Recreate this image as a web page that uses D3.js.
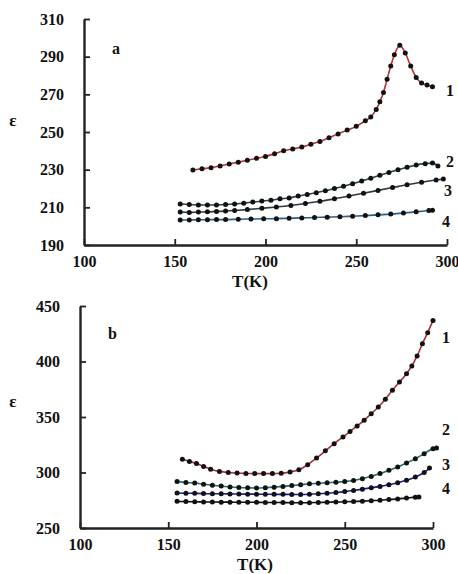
<!DOCTYPE html>
<html>
<head>
<meta charset="utf-8">
<script src="https://cdn.jsdelivr.net/npm/d3@7"></script>
<style>
  body { margin: 0; background: #fff; }
  text { font-family: "Liberation Serif", "DejaVu Serif", serif; font-weight: bold; fill: #111; }
</style>
</head>
<body>
<div class="canvas"></div>
<script>
// panel a data: [T (K), epsilon]
const aCurve1 = [[160,229.8],[165,230.5],[170,231],[175,232],[180,233],[185,234],[190,235],[195,236],[200,237],[205,238.5],[210,240],[215,241],[220,242],[225,243.5],[230,245],[235,247],[240,249],[245,251],[250,253],[255,256],[258,258],[261,262],[263,266],[265,271],[267,278],[269,285],[271,291],[274,296],[277,292],[280,285],[283,279],[286,276],[289,275],[292,274]];
const aCurve2 = [[153,211.8],[158,211.5],[163,211.3],[168,211.2],[173,211.3],[178,211.5],[183,211.8],[188,212.2],[193,212.8],[198,213.3],[203,213.8],[208,214.5],[213,215],[218,216],[223,216.8],[228,217.8],[233,218.8],[238,220],[243,221.2],[248,222.5],[253,224],[258,225.5],[263,227],[268,228.5],[273,230],[278,231.3],[283,232.5],[288,233.2],[292,233.5],[295,232]];
const aCurve3 = [[153,207.5],[158,207.3],[163,207.5],[168,207.6],[173,207.8],[178,208],[183,208.3],[190,208.8],[198,209.5],[206,210.2],[214,211],[222,212],[230,213.2],[238,214.5],[246,216],[254,217.5],[262,219],[270,220.5],[278,222],[286,223.3],[294,224.5],[298,225]];
const aCurve4 = [[153,203.3],[158,203.3],[163,203.4],[168,203.4],[173,203.5],[178,203.5],[185,203.7],[192,203.8],[199,203.9],[206,204],[213,204.2],[220,204.4],[227,204.6],[234,204.8],[241,205],[248,205.3],[255,205.6],[262,206],[269,206.4],[276,207],[283,207.6],[290,208.3],[292,208.5]];

// panel b data
const bCurve1 = [[158,312],[162,310],[166,308],[170,305.5],[174,303],[179,301],[184,300],[189,299.5],[194,299.2],[199,299],[204,299],[209,299],[214,299.3],[219,300.5],[224,302.5],[229,307],[234,313],[239,319.5],[244,326],[249,332],[253,337],[257,342],[261,347],[265,353],[269,359],[273,366],[277,374],[281,381.5],[285,389],[288,396],[291,405],[294,416],[297,426],[300,437]];
const bCurve2 = [[155,292],[160,291],[165,290.5],[170,289.5],[175,288.5],[180,287.8],[185,287],[190,286.5],[195,286.2],[200,286],[205,286.3],[210,286.8],[215,287.5],[220,288.2],[225,289],[230,289.8],[235,290.3],[240,290.8],[245,291.2],[250,291.8],[255,292.8],[260,294.3],[265,296.5],[270,299],[275,302],[280,305],[285,308.5],[290,312.5],[295,317],[300,321.5],[302,322]];
const bCurve3 = [[155,281.5],[160,281.3],[165,281.2],[170,281],[175,280.8],[180,280.8],[185,280.7],[190,280.6],[195,280.5],[200,280.5],[205,280.4],[210,280.3],[215,280.3],[220,280.2],[225,280.2],[230,280.4],[235,280.8],[240,281.3],[245,282],[250,282.8],[255,283.8],[260,285],[265,286.2],[270,287.5],[275,289],[280,290.8],[285,293],[290,296],[295,300],[298,304]];
const bCurve4 = [[155,274],[160,273.8],[165,273.6],[170,273.5],[175,273.4],[180,273.3],[185,273.3],[190,273.2],[195,273.2],[200,273.1],[205,273],[210,273],[215,272.9],[220,272.8],[225,272.8],[230,272.8],[235,273],[240,273.2],[245,273.4],[250,273.6],[255,273.9],[260,274.2],[265,274.6],[270,275],[275,275.6],[280,276.2],[285,277],[290,277.8],[292,278]];

const xTicks = [100, 150, 200, 250, 300];
const aYTicks = [190, 210, 230, 250, 270, 290, 310];
const bYTicks = [250, 300, 350, 400, 450];
const curveNames = ['1', '2', '3', '4'];

const svg = d3.select('.canvas')
  .append('svg')
  .attr('width', 458)
  .attr('height', 574);

// draws one panel
const drawPanel = (cfg) => {
  const x = d3.scaleLinear().domain([100, 300]).range([cfg.left, cfg.right]);
  const y = d3.scaleLinear().domain(cfg.yDomain).range([cfg.bottom, cfg.top]);
  const g = svg.append('g');

  // lines first, dots on top
  const line = d3.line()
    .x(d => x(d[0]))
    .y(d => y(d[1]))
    .curve(d3.curveMonotoneX);

  cfg.series.forEach((s, i) => {
    g.append('path')
      .attr('d', line(s))
      .attr('fill', 'none')
      .attr('stroke', cfg.colours[i])
      .attr('stroke-width', 1.6);
    g.selectAll(null)
      .data(s)
      .enter()
      .append('circle')
        .attr('cx', d => x(d[0]))
        .attr('cy', d => y(d[1]))
        .attr('r', 2.5)
        .attr('fill', '#111');
  });

  // axes
  const xAxis = d3.axisBottom(x).tickValues(xTicks).tickSizeInner(-6).tickSizeOuter(0).tickPadding(16);
  const yAxis = d3.axisLeft(y).tickValues(cfg.yTicks).tickSizeInner(-6).tickSizeOuter(0).tickPadding(20);

  const gx = g.append('g').attr('transform', `translate(0, ${cfg.bottom})`).call(xAxis);
  const gy = g.append('g').attr('transform', `translate(${cfg.left}, 0)`).call(yAxis);
  [gx, gy].forEach(a => {
    a.select('.domain').attr('stroke', '#222').attr('stroke-width', 2.4);
    a.selectAll('.tick line').attr('stroke', '#222').attr('stroke-width', 1.8);
    a.selectAll('text')
      .attr('font-family', '"Liberation Serif", serif')
      .attr('font-weight', 'bold')
      .attr('font-size', 16)
      .attr('fill', '#111');
  });
  gx.selectAll('.tick text').attr('dy', '0.4em');

  // curve numbers
  cfg.numberPos.forEach((p, i) => {
    g.append('text')
      .attr('x', p[0]).attr('y', p[1])
      .attr('font-size', 16)
      .attr('dominant-baseline', 'middle')
      .text(curveNames[i]);
  });

  // panel letter, axis titles
  g.append('text').attr('x', cfg.letterPos[0]).attr('y', cfg.letterPos[1])
    .attr('font-size', 16).attr('dominant-baseline', 'middle').text(cfg.letter);
  g.append('text').attr('x', 13).attr('y', cfg.epsY)
    .attr('font-size', 17).attr('text-anchor', 'middle').attr('dominant-baseline', 'middle').text('ε');
  g.append('text').attr('x', cfg.tkX).attr('y', cfg.tkY)
    .attr('font-size', 17).attr('text-anchor', 'middle').attr('dominant-baseline', 'middle').text('T(K)');
};

drawPanel({
  left: 84, right: 447, top: 19, bottom: 245,
  yDomain: [190, 310], yTicks: aYTicks,
  series: [aCurve1, aCurve2, aCurve3, aCurve4],
  colours: ['#b8333a', '#23454f', '#2b3a40', '#2c5f86'],
  numberPos: [[446, 92], [446, 163], [444, 192], [442, 223]],
  letter: 'a', letterPos: [112, 50],
  epsY: 122, tkX: 250, tkY: 283
});

drawPanel({
  left: 80, right: 433, top: 306, bottom: 528,
  yDomain: [250, 450], yTicks: bYTicks,
  series: [bCurve1, bCurve2, bCurve3, bCurve4],
  colours: ['#a8303a', '#226e6e', '#1e1e9a', '#111111'],
  numberPos: [[442, 339], [442, 431], [442, 466], [442, 490]],
  letter: 'b', letterPos: [108, 335],
  epsY: 403, tkX: 255, tkY: 566
});
</script>
</body>
</html>
